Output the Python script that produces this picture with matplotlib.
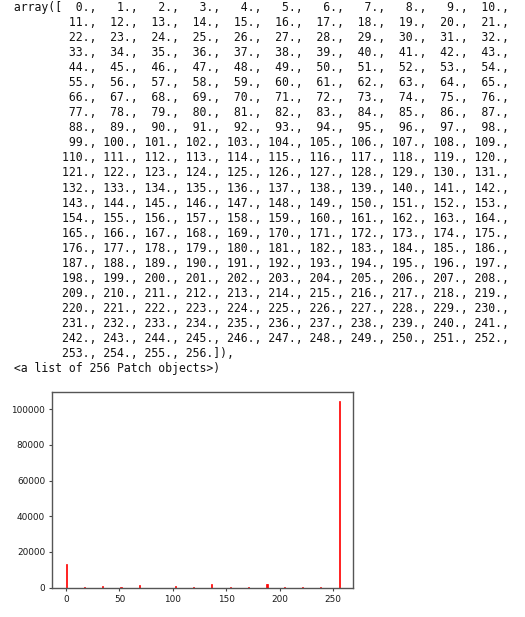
import numpy as np
import matplotlib
matplotlib.use('Agg')
import matplotlib.pyplot as plt

# pixel levels seen in the histogram and their counts
levels = [0, 17, 34, 51, 68, 102, 119, 136, 153, 170, 187, 188, 204, 221, 238, 255]
counts = [13500, 600, 900, 600, 1300, 1000, 600, 2200, 600, 600, 2100, 1900, 600, 600, 600, 104500]
edges = np.arange(257.)

W, H = 525, 617
fig = plt.figure(figsize=(W / 100, H / 100), dpi=100)

# axes box in pixels: left, top, right, bottom
L, T, R, B = 52.3, 391.7, 353.3, 587.7
ax = fig.add_axes([L / W, 1 - B / H, (R - L) / W, (B - T) / H])

n, bins, patches = ax.hist(levels, bins=edges, weights=counts, color='r',
                           edgecolor='r', linewidth=0.5)

ax.set_xticks([0, 50, 100, 150, 200, 250])
ax.set_yticks([0, 20000, 40000, 60000, 80000, 100000])
ax.tick_params(labelsize=6.4, length=2.4, width=0.8, pad=2.8,
               color='#444444', labelcolor='#1a1a1a')
for s in ax.spines.values():
    s.set_color('#555555')
    s.set_linewidth(1.0)

# notebook text output above the chart (bin edges returned by hist)
lines = [' ' + ln for ln in repr(bins).split('\n')]
lines[-1] += ','
lines.append(' <a list of %d Patch objects>)' % len(patches))

x0 = 7
y0 = 10.7
step = 15.07
for i, ln in enumerate(lines):
    fig.text(x0 / W, 1 - (y0 + step * i) / H, ln, family='DejaVu Sans Mono',
             fontsize=8.31, va='baseline', ha='left', color='#111111')

fig.savefig('out.png', dpi=100)
